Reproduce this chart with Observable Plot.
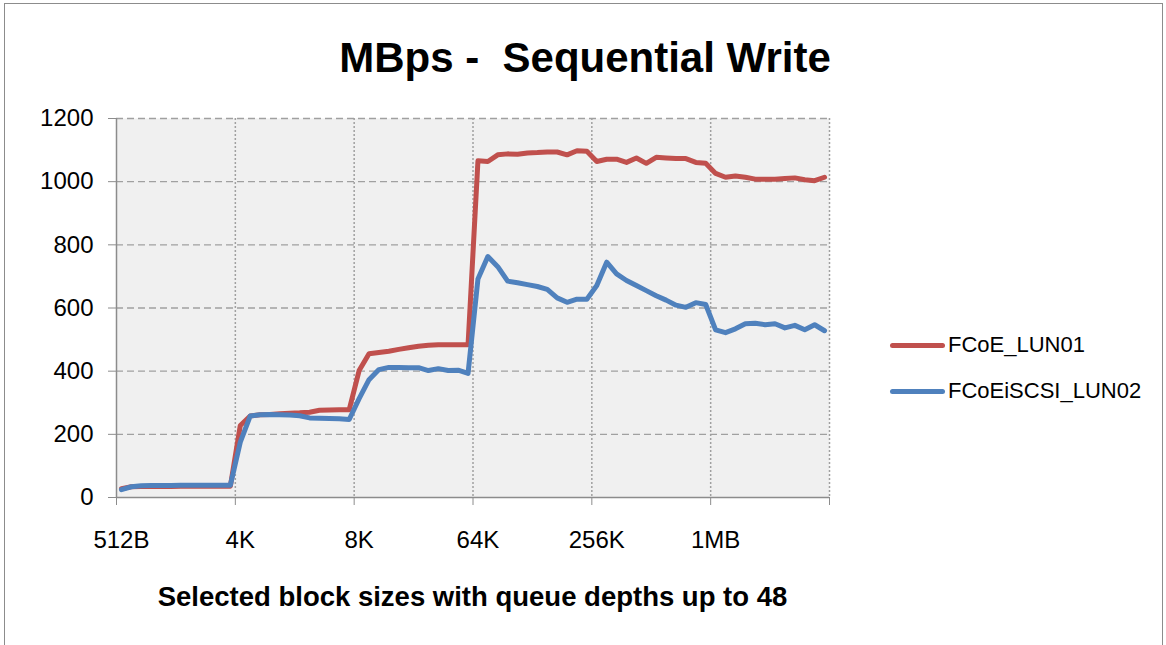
<!DOCTYPE html>
<html><head><meta charset="utf-8">
<script src="https://cdn.jsdelivr.net/npm/d3@7"></script>
<script src="https://cdn.jsdelivr.net/npm/@observablehq/plot@0.6"></script>
<style>
body{margin:0;background:#fff;font-family:"Liberation Sans",Arial,sans-serif;}
#wrap{position:relative;width:1166px;height:645px;overflow:hidden;background:#fff;}
#border{position:absolute;left:4px;top:3px;width:1159px;height:700px;border:1.5px solid #8c8c8c;box-sizing:border-box;}
#chart{position:absolute;left:0;top:0;}
.t{position:absolute;line-height:1;white-space:pre;color:#000;}
#title{left:0;width:1170px;text-align:center;top:37px;font-size:42px;font-weight:bold;}
#xtitle{left:0;width:945px;text-align:center;top:583px;font-size:27.5px;font-weight:bold;}
.leg{position:absolute;left:890px;width:55px;height:5px;border-radius:3px;}
.legt{left:948px;font-size:22px;}
</style>
</head><body>
<div id="wrap">
  <div id="border"></div>
  <div id="chart"></div>
  <div class="t" id="title"></div>
  <div class="t" id="xtitle"></div>
  <div id="legend"></div>
</div>
<script>
const titleText = "MBps -  Sequential Write";
const xTitleText = "Selected block sizes with queue depths up to 48";
const blockSizes = ["512B", "4K", "8K", "64K", "256K", "1MB"];
const pointsPerBlock = 12;
const yTicks = [0, 200, 400, 600, 800, 1000, 1200];
const seriesNames = ["FCoE_LUN01", "FCoEiSCSI_LUN02"];
const seriesColors = ["#C0504D", "#4F81BD"];

const fcoe = [
  28, 34, 35, 35, 35, 35, 36, 36, 36, 36, 36, 36,
  228, 258, 262, 263, 265, 267, 268, 270, 276, 277, 278, 278,
  402, 455, 459, 463, 469, 474, 479, 482, 484, 484, 484, 484,
  1066, 1064, 1085, 1088, 1087, 1091, 1092, 1094, 1094, 1085, 1098, 1096,
  1064, 1071, 1071, 1061, 1075, 1058, 1077, 1075, 1073, 1073, 1061, 1058,
  1026, 1014, 1018, 1014, 1008, 1008, 1008, 1010, 1012, 1006, 1003, 1014
];
const iscsi = [
  25, 34, 37, 38, 38, 38, 39, 39, 39, 39, 39, 39,
  175, 258, 262, 263, 262, 261, 259, 252, 251, 250, 249, 247,
  313, 373, 405, 412, 412, 411, 411, 402, 408, 402, 403, 393,
  692, 763, 731, 685, 680, 674, 668, 659, 632, 618, 628, 628,
  671, 745, 708, 687, 671, 655, 639, 625, 609, 602, 617, 611,
  531, 522, 534, 550, 552, 547, 550, 537, 545, 531, 547, 528
];

const n = blockSizes.length * pointsPerBlock;
const rows = [];
[fcoe, iscsi].forEach((vals, s) => vals.forEach((v, i) => rows.push({series: seriesNames[s], i: i + 0.5, v})));
const tickPos = d3.range(0, n + 1, pointsPerBlock);
const labelPos = blockSizes.map((_, k) => k * pointsPerBlock + 0.5);
const labelOf = new Map(labelPos.map((p, k) => [p, blockSizes[k]]));

const W = 1166, H = 645;
const plot = Plot.plot({
  width: W, height: H,
  marginLeft: 116, marginRight: W - 829, marginTop: 118, marginBottom: H - 497,
  style: {fontFamily: "'Liberation Sans', Arial, sans-serif", fontSize: "24px", background: "transparent", color: "#000"},
  x: {type: "linear", domain: [0, n]},
  y: {domain: [0, 1200]},
  color: {domain: seriesNames, range: seriesColors},
  marks: [
    Plot.frame({fill: "#f0f0f0", stroke: null}),
    Plot.gridY(yTicks.filter(d => d > 0), {stroke: "#a0a0a0", strokeOpacity: 1, strokeWidth: 1.4, strokeDasharray: "7,4"}),
    Plot.gridX(tickPos.filter(d => d > 0), {stroke: "#a0a0a0", strokeOpacity: 1, strokeWidth: 1.5, strokeDasharray: "2,2"}),
    Plot.ruleX([0], {stroke: "#8c8c8c", strokeWidth: 1.5}),
    Plot.ruleY([0], {stroke: "#8c8c8c", strokeWidth: 1.5}),
    Plot.axisY({ticks: yTicks, tickSize: 8, tickPadding: 15, tickFormat: d => String(d), stroke: "#8c8c8c", fill: "#000", fontSize: 24, label: null}),
    Plot.axisX({ticks: tickPos, tickSize: 8, tickFormat: () => "", stroke: "#8c8c8c", label: null}),
    Plot.axisX({ticks: labelPos, tickSize: 0, tickPadding: 33, tickFormat: d => labelOf.get(d), fill: "#000", fontSize: 24, label: null}),
    Plot.line(rows, {x: "i", y: "v", z: "series", stroke: "series", strokeWidth: 5, strokeLinejoin: "round", strokeLinecap: "round"})
  ]
});
document.getElementById("chart").appendChild(plot);
document.getElementById("title").textContent = titleText;
document.getElementById("xtitle").textContent = xTitleText;

const legend = document.getElementById("legend");
const legY = [345, 391];
seriesNames.forEach((name, k) => {
  const sw = document.createElement("div");
  sw.className = "leg";
  sw.style.top = (legY[k] - 2.5) + "px";
  sw.style.background = seriesColors[k];
  legend.appendChild(sw);
  const t = document.createElement("div");
  t.className = "t legt";
  t.style.top = (legY[k] + 0.358 * 22 - 0.8465 * 22) + "px";
  t.textContent = name;
  legend.appendChild(t);
});
</script>
</body></html>
